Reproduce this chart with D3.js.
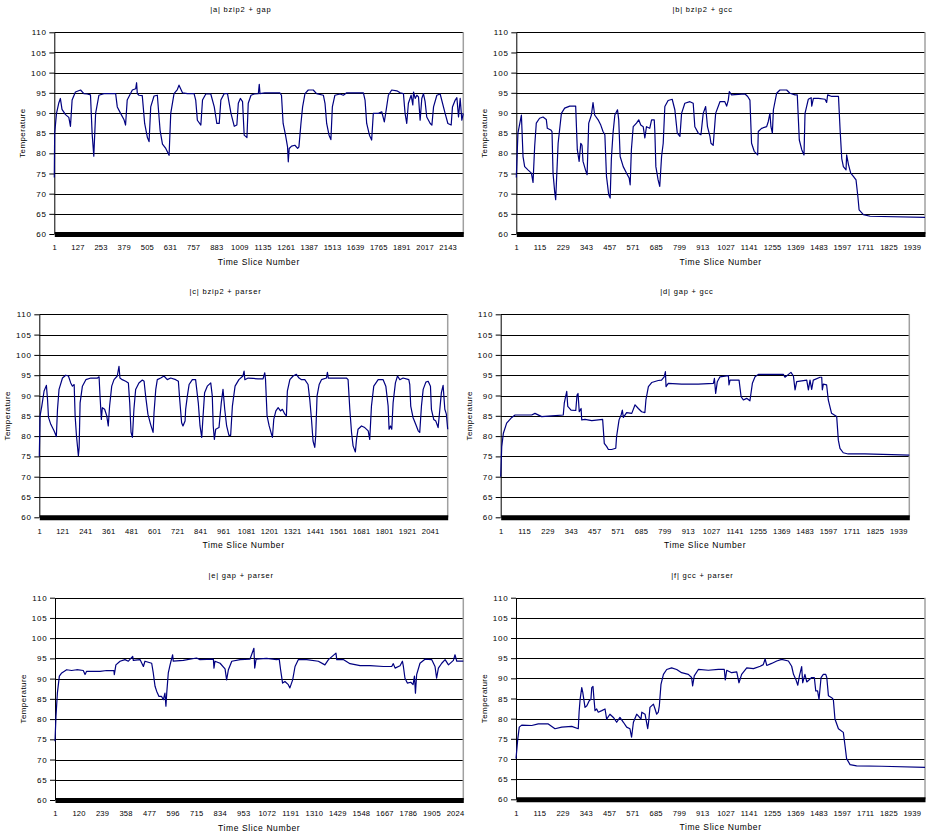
<!DOCTYPE html>
<html>
<head>
<meta charset="utf-8">
<script src="https://cdn.jsdelivr.net/npm/d3@7"></script>
<style>
  body { margin: 0; background: #fff; }
  svg { display: block; }
  text { font-family: "Liberation Sans", Arial, sans-serif; fill: #000; }
</style>
</head>
<body>
<div id="chart"></div>
<script>
// titles of the six panels
const titles = ["|a| bzip2 + gap", "|b| bzip2 + gcc", "|c| bzip2 + parser",
                "|d| gap + gcc", "|e| gap + parser", "|f| gcc + parser"];

const yTicks = [60, 65, 70, 75, 80, 85, 90, 95, 100, 105, 110];

// x tick labels (time slice numbers)
const ticksA = [1, 127, 253, 379, 505, 631, 757, 883, 1009, 1135, 1261, 1387, 1513, 1639, 1765, 1891, 2017, 2143];
const ticksB = [1, 115, 229, 343, 457, 571, 685, 799, 913, 1027, 1141, 1255, 1369, 1483, 1597, 1711, 1825, 1939];
const ticksC = [1, 121, 241, 361, 481, 601, 721, 841, 961, 1081, 1201, 1321, 1441, 1561, 1681, 1801, 1921, 2041];
const ticksD = ticksB;
const ticksE = [1, 120, 239, 358, 477, 596, 715, 834, 953, 1072, 1191, 1310, 1429, 1548, 1667, 1786, 1905, 2024];
const ticksF = ticksB;

// number of time slices in each run
const counts = [2228, 2004, 2133, 1993, 2066, 2004];

// [time slice, temperature]
const seriesA = [[1,74],[3,85],[13,89.9],[25,92.4],[34,93.6],[43,90.9],[62,89.6],[80,88.9],[89,86.7],[98,93.2],[116,95.2],[144,95.7],[162,94.8],[180,94.7],[198,94.5],[207,84.9],[216,79.3],[226,89.9],[244,94.4],[271,94.8],[335,94.8],[344,91.5],[362,89.9],[380,88.4],[389,87],[398,93.2],[426,95.7],[444,96],[449,97.5],[453,94.8],[462,94.4],[480,94.3],[493,87.4],[508,83.9],[517,82.9],[526,91.5],[544,94.2],[562,94.4],[577,85.7],[590,82.3],[608,81.2],[626,79.5],[635,89.9],[653,94.8],[671,95.8],[680,96.9],[699,95],[726,94.8],[762,94.8],[771,93.2],[780,88.2],[799,87],[808,93.2],[826,94.7],[853,94.7],[872,91.5],[886,87.4],[899,87.4],[908,93.2],[926,94.8],[944,94.8],[963,89.9],[981,86.7],[995,87],[1003,92.4],[1014,93.6],[1026,92.8],[1035,84.5],[1050,83.9],[1057,92.4],[1072,94.4],[1090,94.7],[1112,94.8],[1117,97.1],[1121,94.8],[1147,95],[1229,95],[1238,94.4],[1247,87.4],[1260,84.5],[1271,81.6],[1275,77.9],[1280,81.2],[1293,81.8],[1311,82],[1326,81.2],[1333,81.6],[1344,87.4],[1353,91.5],[1366,94.8],[1384,95.7],[1411,95.7],[1429,94.8],[1466,94.4],[1475,92.4],[1484,87.4],[1497,84.5],[1507,83.4],[1515,91.5],[1529,94.4],[1557,94.7],[1575,94.4],[1593,95],[1684,95],[1693,93.2],[1702,87.4],[1717,84.5],[1729,83.3],[1738,89.9],[1766,89.9],[1784,90.3],[1798,87.8],[1808,90.7],[1820,94.4],[1838,95.7],[1866,95.5],[1884,95],[1902,94.8],[1911,89.9],[1920,87.4],[1929,92.4],[1944,94.4],[1953,92],[1957,95.2],[1966,93.6],[1975,94.4],[1984,94],[1993,88.2],[2002,93.6],[2011,94.8],[2020,92.8],[2029,89],[2048,87.4],[2057,87],[2066,91.5],[2084,94.4],[2102,94.7],[2129,89.9],[2144,87.4],[2162,87],[2169,91.5],[2184,93.2],[2193,93.8],[2202,89],[2211,93.6],[2220,88.2],[2228,89.9]];

const seriesB = [[1,74],[9,85],[26,89.5],[34,79.2],[42,76.7],[58,75.9],[75,75.1],[83,72.8],[91,81.7],[99,87.5],[115,88.7],[132,89],[148,88.4],[153,86.2],[170,85.8],[176,85.4],[181,75.1],[189,70.5],[194,68.5],[206,82.5],[222,89.9],[238,91.2],[263,91.7],[292,91.7],[300,80.9],[309,78],[317,82.5],[323,82],[328,78],[340,75.9],[348,74.7],[356,87.5],[369,89.5],[377,92.6],[385,89.5],[402,88.3],[415,87],[426,85.4],[435,84.6],[443,74.3],[454,69.7],[461,68.9],[467,78.7],[475,85],[484,89.5],[497,90.8],[503,88.3],[510,79.2],[525,76.7],[541,75.1],[554,73.9],[559,72.2],[565,80.9],[574,86.6],[590,87.5],[601,88.3],[611,87],[623,86.6],[631,83.8],[639,86.6],[655,86.2],[664,88.3],[677,88.3],[680,85.4],[685,76.7],[696,73.4],[704,71.8],[713,79.2],[721,82.5],[729,91.6],[745,93.1],[765,93.4],[778,90.8],[790,85],[803,84.2],[811,89.9],[827,92.4],[852,92.8],[868,92.4],[876,86.6],[893,85],[906,84.6],[917,89.9],[929,91.6],[938,86.6],[950,84.2],[955,82.5],[966,82],[978,89.9],[999,92.8],[1023,92.8],[1032,91.7],[1040,93.2],[1045,95.3],[1056,94.5],[1089,94.6],[1122,94.7],[1135,94.1],[1146,93.2],[1154,82.5],[1167,80.5],[1184,79.6],[1187,85.4],[1203,86.2],[1228,86.6],[1236,87.9],[1244,89.9],[1249,86.6],[1256,85],[1261,90.8],[1277,94.9],[1293,95.7],[1326,95.7],[1342,94.9],[1367,94.5],[1378,94.5],[1388,83.3],[1400,80.9],[1411,79.6],[1416,89.9],[1432,93.4],[1446,93.8],[1449,91.7],[1457,93.6],[1482,93.6],[1514,93.4],[1522,92.6],[1527,94.5],[1547,94.1],[1580,94.1],[1588,85.8],[1596,78.7],[1604,76.7],[1617,75.9],[1620,79.6],[1629,77.2],[1640,75.1],[1653,74.3],[1666,73.4],[1675,69.3],[1681,66],[1702,64.8],[1735,64.4],[2004,64.1]];

const seriesC = [[1,75],[5,85],[14,87.4],[26,91.1],[38,92.5],[44,89],[49,84.6],[61,82.9],[78,81.3],[90,79.9],[96,86.6],[104,91.5],[122,94.3],[139,95],[153,94.8],[165,93.1],[174,92.3],[183,92.7],[188,85],[195,80.1],[205,75.2],[209,77.2],[214,88.2],[226,92.3],[244,93.9],[270,94.3],[305,94.3],[313,94.6],[318,89.9],[325,84.1],[330,87],[342,86.6],[353,85],[361,82.5],[368,87.4],[379,92.3],[391,93.9],[408,94.8],[417,97.2],[422,94.3],[434,93.9],[452,93.5],[466,93.1],[473,88.2],[480,80.9],[487,79.7],[495,86.6],[504,91.5],[521,93.1],[539,93.8],[548,93.5],[556,89.9],[568,85.4],[582,82.9],[595,80.9],[600,85.8],[609,91.5],[617,93.9],[635,94.3],[652,94.8],[669,93.9],[687,94.3],[713,93.9],[727,93.5],[734,89],[744,83.3],[751,82.5],[762,83.7],[765,86.6],[774,89.9],[783,92.7],[800,93.9],[817,93.9],[831,88.2],[840,82.5],[849,79.7],[856,85],[864,90.7],[878,92.3],[896,93.1],[904,89.9],[909,82.5],[915,79.2],[922,81.7],[939,82.1],[951,88.2],[960,91.5],[969,86.6],[979,82.5],[991,80.2],[1000,80.2],[1009,87.4],[1023,92.3],[1043,93.9],[1064,94.8],[1070,96],[1074,93.9],[1091,94.3],[1117,94.2],[1143,94.1],[1169,94.1],[1178,95.6],[1182,93.9],[1190,85],[1201,82.5],[1213,80.5],[1218,79.7],[1225,84.1],[1236,86.2],[1248,87],[1260,86.2],[1270,86.6],[1283,85.4],[1291,85],[1296,91.1],[1309,93.9],[1326,94.8],[1343,95.2],[1357,94.3],[1370,93.9],[1387,93.9],[1404,92.7],[1413,89],[1422,84.1],[1430,78.8],[1439,77.2],[1444,80.1],[1451,89.9],[1462,92.7],[1474,93.9],[1500,94.3],[1505,95.7],[1510,94.3],[1535,94.3],[1570,94.3],[1604,94.3],[1613,93.9],[1622,86.6],[1631,80.9],[1639,77.6],[1651,76.1],[1657,79.2],[1665,81.7],[1683,82.5],[1700,82.1],[1718,81.3],[1726,79.2],[1735,87.4],[1747,92.3],[1770,93.9],[1796,93.9],[1810,92.3],[1822,87.4],[1827,81.7],[1834,82.5],[1841,81.7],[1848,88.2],[1860,93.1],[1871,94.8],[1883,93.9],[1900,94.3],[1930,93.9],[1935,92.7],[1940,87.4],[1952,84.6],[1966,82.9],[1979,81.3],[1987,80.9],[1996,87.4],[2005,91.5],[2019,93.3],[2031,93.5],[2043,92.3],[2048,86.6],[2060,84.1],[2071,83.7],[2083,82.1],[2092,86.6],[2100,90.7],[2109,92.5],[2118,86.6],[2126,85.4],[2133,81.7]];

const seriesD = [[1,70],[6,77.4],[14,80.7],[30,83.2],[55,84.6],[71,85.2],[152,85.2],[168,85.6],[201,84.8],[250,85],[306,85.2],[311,88.1],[319,90.1],[323,91],[328,87.3],[344,86.4],[367,86.3],[373,90.1],[378,90.5],[384,86],[393,86.8],[396,84],[412,84.1],[445,83.8],[477,84],[498,84.1],[506,78.2],[518,77.4],[526,76.7],[542,76.7],[562,77],[566,79.9],[578,84],[588,85.2],[594,86.4],[599,84.6],[615,85.8],[640,85.6],[656,87.7],[672,86.8],[688,86],[704,85.8],[709,88.9],[721,92.2],[737,93.2],[769,93.7],[785,93.8],[798,94.6],[804,95.9],[807,92.2],[818,93],[883,92.8],[964,92.8],[1038,93],[1043,94.2],[1049,90.5],[1057,93.4],[1070,94.6],[1111,94.9],[1114,92.6],[1119,93.8],[1163,93.8],[1173,89.7],[1184,88.9],[1200,89.3],[1216,88.7],[1221,90.5],[1228,93],[1241,94.6],[1257,95.2],[1322,95.2],[1379,95.2],[1387,94.5],[1404,95.2],[1416,95.7],[1428,94.8],[1436,91.4],[1444,93.4],[1493,93.8],[1501,91.4],[1509,93.8],[1517,91.5],[1525,93.8],[1558,94.5],[1566,94.5],[1569,91.4],[1574,92.8],[1590,92.6],[1598,88.9],[1614,85.6],[1639,84.8],[1647,79],[1655,77],[1671,75.9],[1695,75.6],[1776,75.6],[1993,75.3]];

const seriesE = [[1,74.5],[6,80.7],[13,86.4],[23,90.6],[35,91.4],[60,92.2],[85,92],[111,92.2],[144,92],[153,91],[161,91.8],[229,91.8],[262,92],[299,92],[301,91],[309,93.4],[330,94.3],[355,94.7],[372,94.3],[394,95.5],[397,94.5],[431,94.7],[448,93],[456,94.3],[490,93.8],[498,91.4],[507,88.1],[515,86.9],[527,85.6],[540,85.6],[549,84.8],[557,86.4],[562,83.2],[566,86.4],[574,91.4],[583,93.4],[596,95.9],[599,94.3],[650,94.5],[717,95.1],[734,94.7],[802,94.8],[805,92.6],[810,94.3],[836,93.8],[861,92.4],[869,89.7],[878,92.2],[895,94.3],[937,94.7],[987,94.8],[1007,97.5],[1011,92.6],[1018,94.8],[1071,95],[1122,94.7],[1135,94.8],[1142,92.2],[1152,88.9],[1164,89.3],[1181,88.5],[1189,87.7],[1203,89.7],[1215,93],[1232,94.7],[1274,94.7],[1333,94.3],[1366,93.4],[1384,94.7],[1422,96.3],[1426,94.7],[1459,94.7],[1493,93.7],[1544,93.2],[1594,93.2],[1662,93],[1704,93],[1712,93.7],[1721,92.6],[1746,93.2],[1758,94.3],[1763,93],[1771,90.1],[1783,88.9],[1800,89.1],[1812,88.5],[1819,90.6],[1824,86.4],[1830,91],[1847,93.8],[1872,94.8],[1906,94.7],[1923,93],[1931,90.1],[1940,92.6],[1957,93.8],[1974,94.7],[1991,93.4],[2016,94.5],[2024,95.9],[2033,94.3],[2066,94.3]];

const seriesF = [[1,70.1],[9,74.6],[17,77.9],[29,78.4],[78,78.3],[110,78.7],[159,78.7],[192,77.5],[225,77.9],[274,78.1],[306,77.5],[310,81.6],[315,84.8],[323,87.7],[328,86.5],[339,82.8],[348,83.2],[359,84.4],[368,84.8],[372,87.7],[378,88],[383,84.8],[388,82],[396,82.4],[404,81.6],[421,82],[437,82.4],[445,79.9],[461,81.1],[478,80.3],[494,79.1],[510,80.3],[527,79.1],[543,77.9],[559,77.5],[567,75.4],[576,79.1],[592,81.1],[600,80.7],[613,79.9],[617,81.6],[633,81.1],[646,77.5],[652,79.9],[657,82.8],[674,83.6],[682,82.4],[690,81.1],[698,81.6],[703,83.2],[711,88.5],[723,91],[739,92.2],[763,92.6],[788,92.2],[812,91.4],[845,91],[861,90.2],[866,88.1],[874,90.6],[894,92.2],[943,92],[992,92.2],[1021,92.2],[1026,89.6],[1033,92],[1057,91.4],[1082,91.6],[1093,88.9],[1106,91],[1131,92.6],[1164,92.4],[1197,93],[1212,93.4],[1221,94.8],[1229,93.2],[1253,93.7],[1278,94.3],[1302,94.7],[1335,94.3],[1351,93],[1360,91],[1371,89.8],[1381,88.3],[1389,90.6],[1400,92.9],[1405,88.9],[1416,91],[1425,89.1],[1449,90.2],[1462,90.2],[1469,86.9],[1478,86.9],[1485,84.8],[1495,90.2],[1506,91],[1518,91],[1523,90.2],[1531,85.7],[1547,85.2],[1555,84.8],[1563,79.9],[1580,77.5],[1604,76.6],[1612,73.4],[1620,70.1],[1637,68.6],[1669,68.3],[1792,68.2],[2004,67.9]];

// plot boxes on the page: [left, top, right, bottom]
const boxes = [
  [54.3, 32.3, 463.3, 234],
  [516.3, 32.3, 925, 234],
  [39.3, 314.3, 447.7, 517.3],
  [500.7, 314.3, 909.3, 517.3],
  [55, 597.7, 463.3, 800],
  [516, 597.7, 925, 799.3]
];

const panels = [
  { title: titles[0], data: seriesA, ticks: ticksA, n: counts[0], box: boxes[0] },
  { title: titles[1], data: seriesB, ticks: ticksB, n: counts[1], box: boxes[1] },
  { title: titles[2], data: seriesC, ticks: ticksC, n: counts[2], box: boxes[2] },
  { title: titles[3], data: seriesD, ticks: ticksD, n: counts[3], box: boxes[3] },
  { title: titles[4], data: seriesE, ticks: ticksE, n: counts[4], box: boxes[4] },
  { title: titles[5], data: seriesF, ticks: ticksF, n: counts[5], box: boxes[5] }
];

const width = 927, height = 835;

const svg = d3.select("#chart")
  .append("svg")
  .attr("width", width)
  .attr("height", height);

panels.forEach(p => {
  const [x0, y0, x1, y1] = p.box;
  const x = d3.scaleLinear().domain([1, p.n]).range([x0, x1]);
  const y = d3.scaleLinear().domain([60, 110]).range([y1, y0]);
  const g = svg.append("g");

  // horizontal grid lines
  g.append("g")
    .selectAll("line")
    .data(yTicks.slice(1))
    .join("line")
    .attr("x1", x0).attr("x2", x1)
    .attr("y1", d => Math.round(y(d)) + 0.5)
    .attr("y2", d => Math.round(y(d)) + 0.5)
    .attr("stroke", "#000")
    .attr("stroke-width", 1);

  // right frame edge
  g.append("line")
    .attr("x1", x1).attr("x2", x1)
    .attr("y1", y0).attr("y2", y1)
    .attr("stroke", "#a0a0a0")
    .attr("stroke-width", 1.5);

  // y axis
  const gy = g.append("g")
    .attr("transform", `translate(${x0},0)`)
    .call(d3.axisLeft(y).tickValues(yTicks).tickSize(5).tickSizeOuter(0).tickPadding(2.5));
  gy.select(".domain").attr("stroke", "#000");
  gy.selectAll("text")
    .attr("font-size", 8)
    .attr("font-family", "Liberation Sans, Arial, sans-serif")
    .style("letter-spacing", "0.8px");

  // x axis: the dense category ticks read as a thick band
  const gx = g.append("g")
    .attr("transform", `translate(0,${y1})`)
    .call(d3.axisBottom(x).tickValues(p.ticks).tickFormat(d3.format("d"))
      .tickSize(0).tickSizeOuter(0).tickPadding(11));
  gx.select(".domain").attr("stroke", "#000").attr("stroke-width", 5);
  gx.selectAll("text")
    .attr("font-size", 7.6)
    .attr("font-family", "Liberation Sans, Arial, sans-serif")
    .style("letter-spacing", "0.2px");

  // temperature trace
  const line = d3.line()
    .x(d => x(d[0]))
    .y(d => y(d[1]));
  g.append("path")
    .datum(p.data)
    .attr("d", line)
    .attr("fill", "none")
    .attr("stroke", "#000080")
    .attr("stroke-width", 1.2)
    .attr("stroke-linejoin", "round");

  // titles
  g.append("text")
    .attr("x", (x0 + x1) / 2 - 18)
    .attr("y", y0 - 20)
    .attr("text-anchor", "middle")
    .attr("font-size", 7.5)
    .style("letter-spacing", "0.8px")
    .text(p.title);

  g.append("text")
    .attr("x", (x0 + x1) / 2)
    .attr("y", y1 + 31)
    .attr("text-anchor", "middle")
    .attr("font-size", 8.5)
    .style("letter-spacing", "0.6px")
    .text("Time Slice Number");

  g.append("text")
    .attr("transform", `translate(${x0 - 29},${(y0 + y1) / 2}) rotate(-90)`)
    .attr("text-anchor", "middle")
    .attr("font-size", 8)
    .style("letter-spacing", "0.4px")
    .text("Temperature");
});
</script>
</body>
</html>
